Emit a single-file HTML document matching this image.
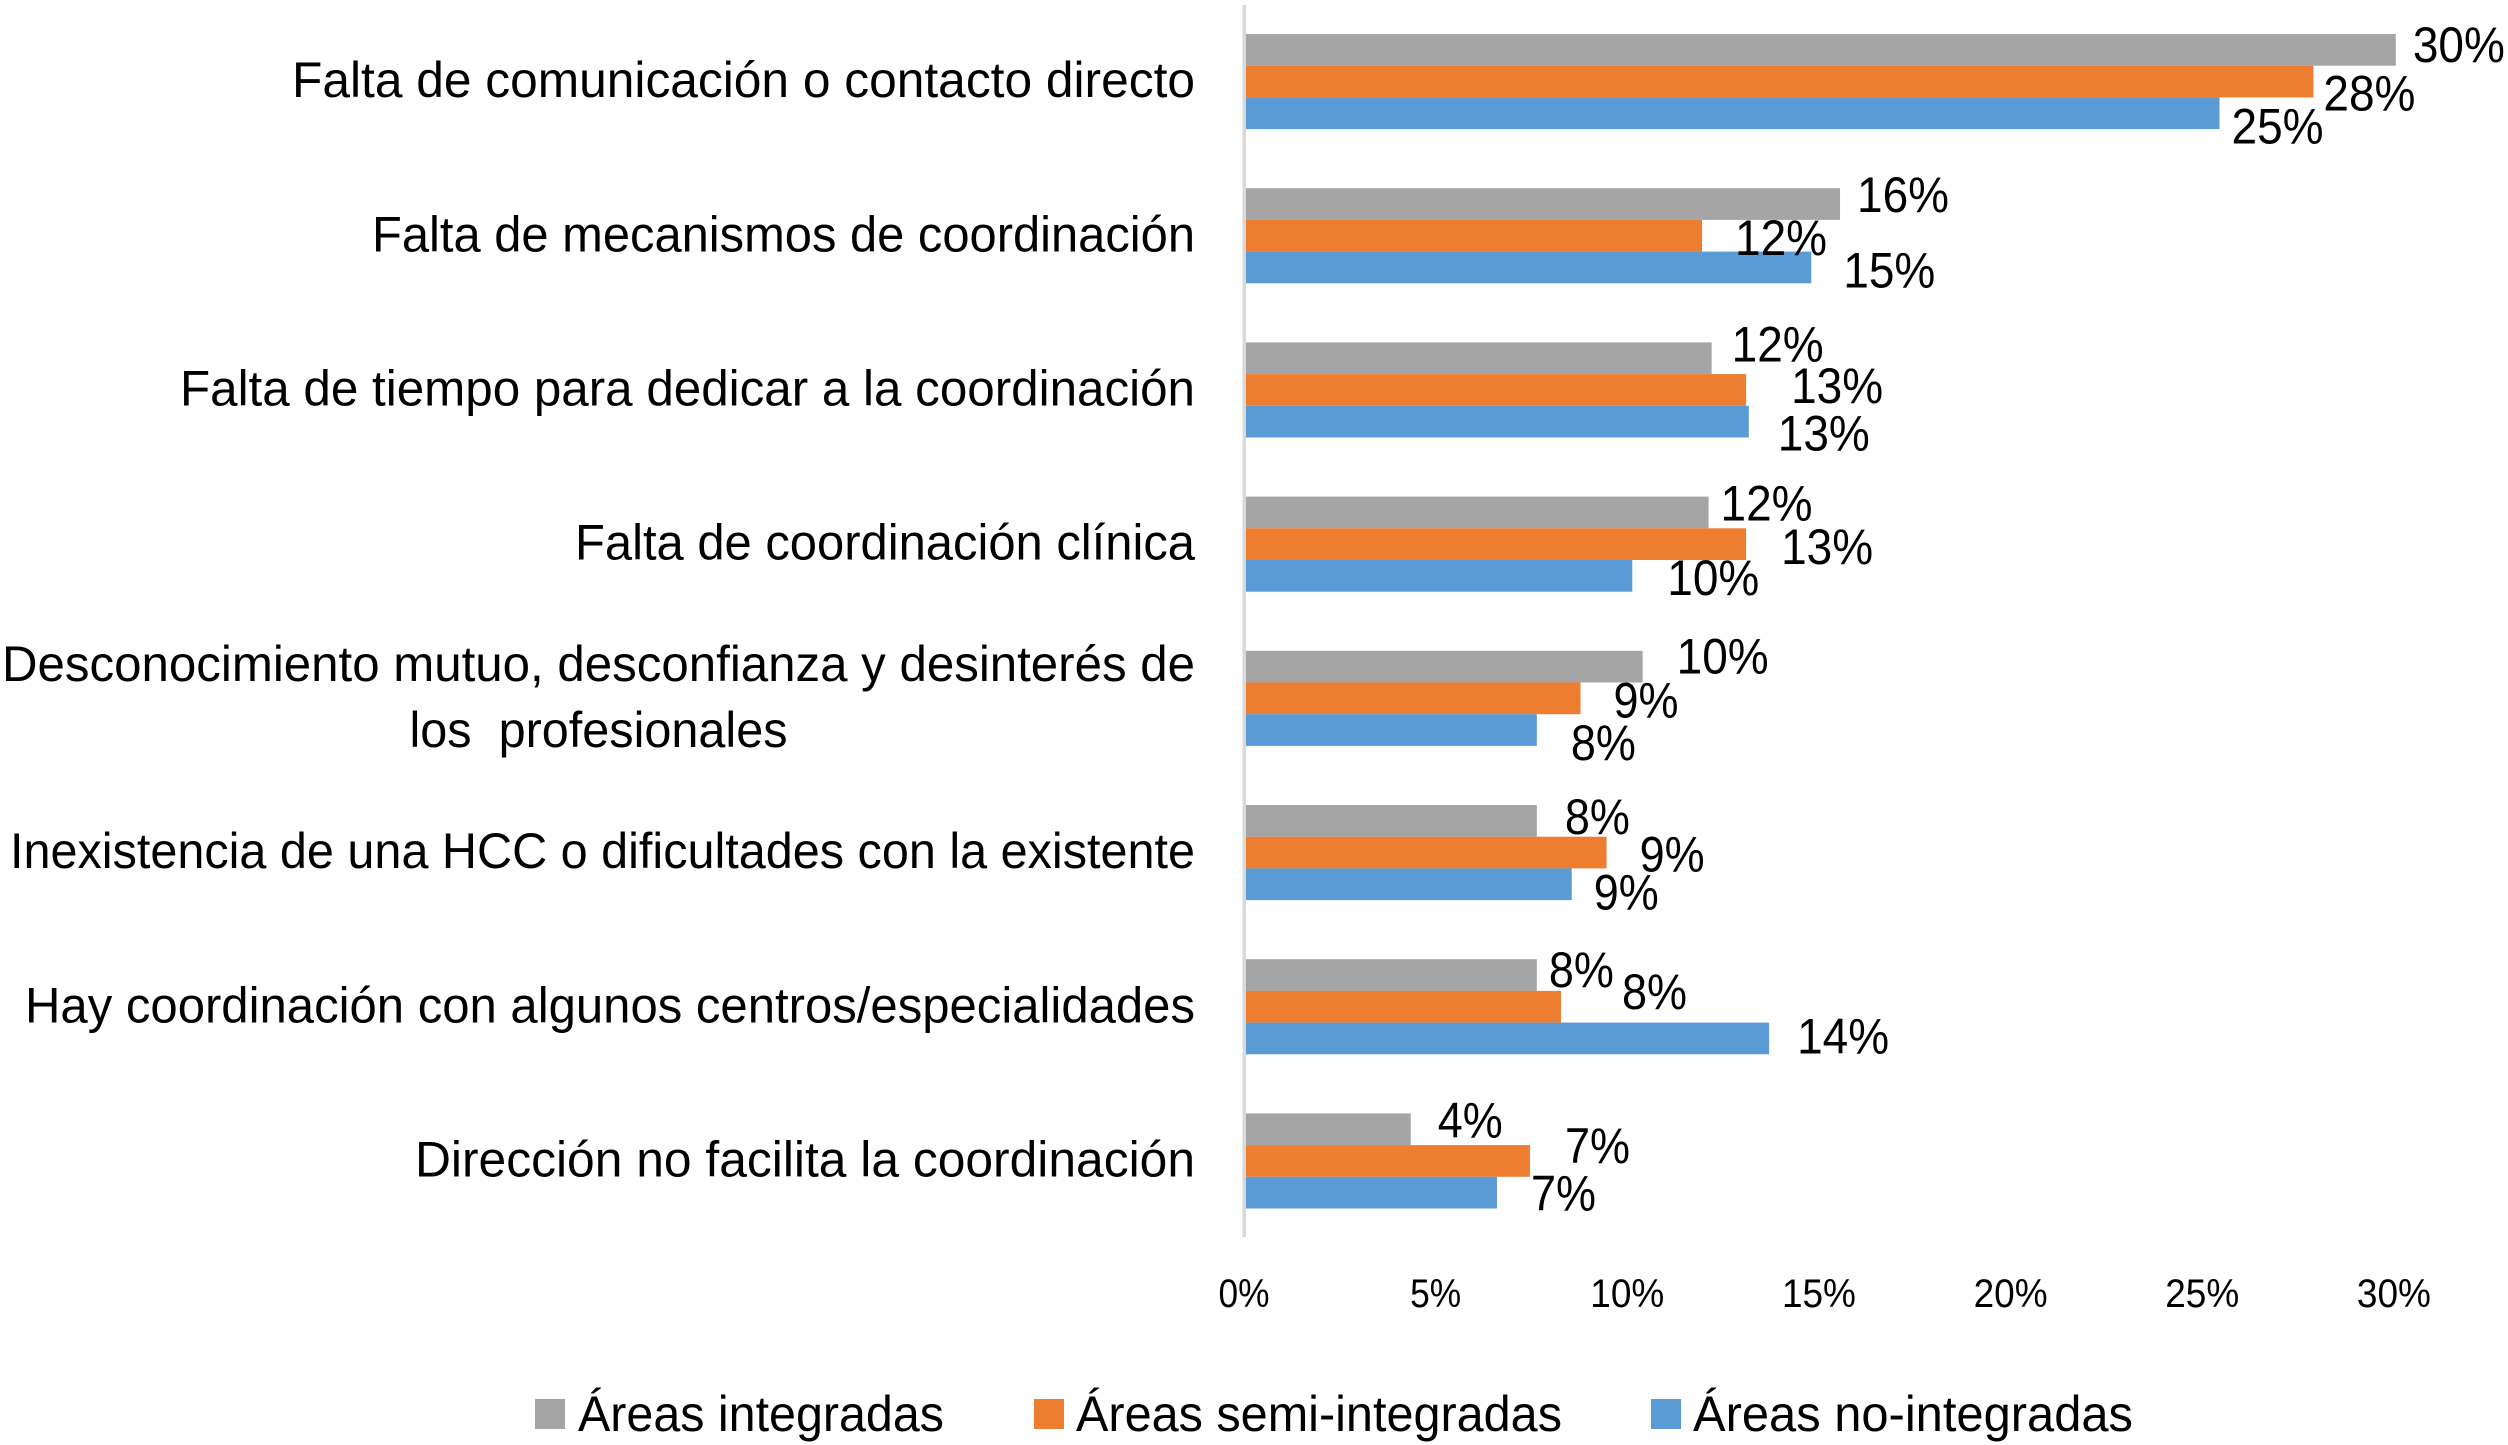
<!DOCTYPE html>
<html lang="es">
<head>
<meta charset="utf-8">
<title>Dificultades de coordinación por tipo de área</title>
<style>
html,body{margin:0;padding:0;background:#fff;width:2508px;height:1445px;overflow:hidden}
svg{display:block}
text{font-family:"Liberation Sans",sans-serif;fill:#000;white-space:pre}
</style>
</head>
<body>
<svg id="chart" xmlns="http://www.w3.org/2000/svg" width="2508" height="1445" viewBox="0 0 2508 1445">
  <rect x="0" y="0" width="2508" height="1445" fill="#ffffff"/>
  <g id="bars"></g>
  <rect x="1242.5" y="5" width="3.5" height="1232" fill="#d9d9d9"/>
  <g id="value-labels"></g>
  <g id="category-labels"></g>
  <g id="tick-labels"></g>
  <g>
    <g>
      <rect x="535" y="1399" width="30" height="30" fill="#a5a5a5"/>
      <text x="578" y="1431" font-size="50" textLength="366" lengthAdjust="spacingAndGlyphs">Áreas integradas</text>
    </g>
    <g>
      <rect x="1034" y="1399" width="30" height="30" fill="#ed7d31"/>
      <text x="1076" y="1431" font-size="50" textLength="486" lengthAdjust="spacingAndGlyphs">Áreas semi-integradas</text>
    </g>
    <g>
      <rect x="1651" y="1399" width="30" height="30" fill="#5b9bd5"/>
      <text x="1693" y="1431" font-size="50" textLength="440" lengthAdjust="spacingAndGlyphs">Áreas no-integradas</text>
    </g>
  </g>
</svg>
<script>
// Data
const categories = [
  "Falta de comunicación o contacto directo",
  "Falta de mecanismos de coordinación",
  "Falta de tiempo para dedicar a la coordinación",
  "Falta de coordinación clínica",
  "Desconocimiento mutuo, desconfianza y desinterés de\nlos  profesionales",
  "Inexistencia de una HCC o dificultades con la existente",
  "Hay coordinación con algunos centros/especialidades",
  "Dirección no facilita la coordinación"
];
const integradas = [30.05, 15.55, 12.2, 12.12, 10.4, 7.64, 7.64, 4.35];
const semiIntegradas = [27.9, 11.95, 13.1, 13.1, 8.78, 9.46, 8.27, 7.46];
const noIntegradas = [25.45, 14.8, 13.17, 10.13, 7.64, 8.55, 13.7, 6.6];
const tickValues = [0, 5, 10, 15, 20, 25, 30];

// Layout (not data): manual nudges of the hand-placed labels, relative to each bar
const nudgeX = [
  [18, 18, 21, 13, 35, 29, 13, 28],
  [11, 34, 46, 36, 34, 34, 62, 36],
  [13, 33, 30, 36, 35, 23, 29, 35]
];
const nudgeY = [
  [12, 8, 3, 8, 7, 13, 12, 8],
  [29, 19, 13, 20, 19, 19, 2, 2],
  [30, 20, 29, 19, 30, 25, 15, 18]
];
const categoryLabelWidths = [[903], [823], [1015], [620], [1193, 378], [1185], [1170], [780]];

const NS = "http://www.w3.org/2000/svg";
const seriesValues = [integradas, semiIntegradas, noIntegradas];
const seriesKeys = ["integradas", "semi-integradas", "no-integradas"];
const seriesColors = ["#a5a5a5", "#ed7d31", "#5b9bd5"];

const x0 = 1244, pxPerPercent = 38.33;
const xScale = v => x0 + v * pxPerPercent;
const groupTop = i => 34 + 154.2 * i;
const barHeight = 31.7;
const barTop = (i, j) => groupTop(i) + barHeight * j;
const groupCenter = i => groupTop(i) + barHeight * 1.5;

function make(tag, attrs) {
  const el = document.createElementNS(NS, tag);
  for (const k in attrs) el.setAttribute(k, attrs[k]);
  return el;
}

const barsG = document.getElementById("bars");
const valuesG = document.getElementById("value-labels");
const catsG = document.getElementById("category-labels");
const ticksG = document.getElementById("tick-labels");

seriesValues.forEach((values, j) => {
  values.forEach((v, i) => {
    const end = xScale(v);
    const bar = make("rect", {
      x: 1245.5,
      y: barTop(i, j).toFixed(2),
      width: Math.max(0, end - 1245.5).toFixed(2),
      height: barHeight,
      fill: seriesColors[j]
    });
    
    
    barsG.appendChild(bar);

    const str = Math.round(v) + "%";
    const label = make("text", {
      x: (end + nudgeX[j][i] - 1).toFixed(2),
      y: (barTop(i, j) + barHeight / 2 + nudgeY[j][i]).toFixed(2),
      "font-size": 50,
      textLength: str.length === 3 ? 92 : 65,
      lengthAdjust: "spacingAndGlyphs"
    });
    label.textContent = str;
    
    
    valuesG.appendChild(label);
  });
});

categories.forEach((name, i) => {
  const lines = name.split("\n");
  const widths = categoryLabelWidths[i];
  const center = 1195 - widths[0] / 2;
  const lineGap = 66;
  lines.forEach((line, k) => {
    const baseline = groupCenter(i) + 15.5 + (k - (lines.length - 1) / 2) * lineGap;
    const t = make("text", {
      x: (center - widths[k] / 2).toFixed(2),
      y: baseline.toFixed(2),
      "font-size": 50,
      textLength: widths[k],
      lengthAdjust: "spacingAndGlyphs"
    });
    t.textContent = line;
    
    
    catsG.appendChild(t);
  });
});

tickValues.forEach(v => {
  const str = v + "%";
  const w = str.length === 2 ? 51 : 74;
  const t = make("text", {
    x: (xScale(v) - w / 2).toFixed(2),
    y: 1307,
    "font-size": 40,
    textLength: w,
    lengthAdjust: "spacingAndGlyphs"
  });
  t.textContent = str;
  
  
  ticksG.appendChild(t);
});
</script>
</body>
</html>
